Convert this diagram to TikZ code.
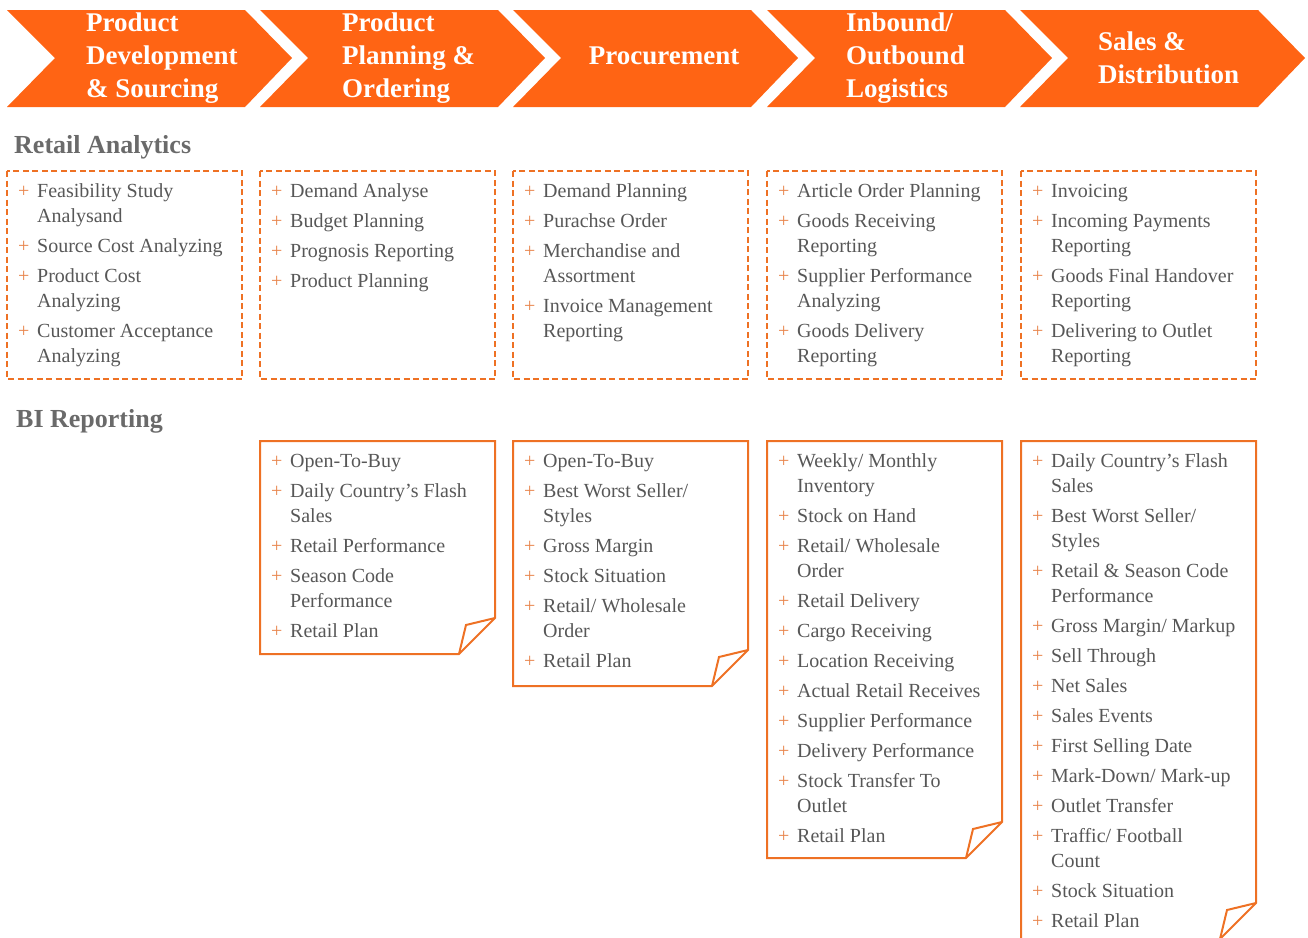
\documentclass[tikz,border=0pt]{standalone}
\usepackage{fontspec}
\setmainfont{Liberation Serif}
\definecolor{chevfill}{HTML}{FF6414}
\definecolor{boxline}{HTML}{EE7124}
\definecolor{plusc}{HTML}{E8854C}
\definecolor{bodytext}{HTML}{575757}
\definecolor{headtext}{HTML}{6A6A6A}
\newcommand\pl{\makebox[19pt][l]{\textcolor{plusc}{+}}}
\newcommand\ind{\hspace*{19pt}}
\newcommand\firstline{\rule{0pt}{18pt}}
\begin{document}
\begin{tikzpicture}[x=1pt,y=-1pt,
  chevron/.style={fill=chevfill},
  chevtext/.style={text=white, font=\bfseries\fontsize{27}{33}\selectfont, inner sep=0pt, align=left},
  heading/.style={text=headtext, font=\bfseries\fontsize{26}{30}\selectfont, inner sep=0pt, anchor=base west},
  dashbox/.style={draw=boxline, line width=1.8pt, dash pattern=on 6pt off 3.5pt},
  notebox/.style={draw=boxline, line width=2pt, line join=miter},
  items/.style={text=bodytext, font=\fontsize{20}{25}\selectfont, inner sep=0pt, align=left, anchor=north west}]
\useasboundingbox (0,0) rectangle (1308,937);
\clip (0,0) rectangle (1308,937);

% process chevrons
\foreach \x in {7,260,513,767,1020}{
  \fill[chevron] (\x,10) -- ++(238,0) -- ++(47,48) -- ++(-47,49) -- ++(-238,0) -- ++(48,-49) -- cycle;
}
\node[chevtext, anchor=north west] (c1) at (86,7) {\rule{0pt}{24pt}Product\\Development\\\& Sourcing};
\node[chevtext, anchor=north west] (c2) at (342,7) {\rule{0pt}{24pt}Product\\Planning \&\\Ordering};
\node[chevtext, anchor=base] (c3) at (664,64) {Procurement};
\node[chevtext, anchor=north west] (c4) at (846,7) {\rule{0pt}{24pt}Inbound/\\Outbound\\Logistics};
\node[chevtext, anchor=north west] (c5) at (1098,26) {\rule{0pt}{24pt}Sales \&\\Distribution};

% section headings
\node[heading] (hra) at (14,153) {Retail Analytics};
\node[heading] (hbi) at (16,427) {BI Reporting};

% retail analytics boxes
\foreach \x in {7,260,513,767,1021}{
  \draw[dashbox] (\x,171) rectangle ++(235,208);
}
\node[items] (ra1) at (18,179) {\firstline\pl Feasibility Study\\ \ind Analysand\\[5pt]
  \pl Source Cost Analyzing\\[5pt]
  \pl Product Cost\\ \ind Analyzing\\[5pt]
  \pl Customer Acceptance\\ \ind Analyzing};
\node[items] (ra2) at (271,179) {\firstline\pl Demand Analyse\\[5pt]
  \pl Budget Planning\\[5pt]
  \pl Prognosis Reporting\\[5pt]
  \pl Product Planning};
\node[items] (ra3) at (524,179) {\firstline\pl Demand Planning\\[5pt]
  \pl Purachse Order\\[5pt]
  \pl Merchandise and\\ \ind Assortment\\[5pt]
  \pl Invoice Management\\ \ind Reporting};
\node[items] (ra4) at (778,179) {\firstline\pl Article Order Planning\\[5pt]
  \pl Goods Receiving\\ \ind Reporting\\[5pt]
  \pl Supplier Performance\\ \ind Analyzing\\[5pt]
  \pl Goods Delivery\\ \ind Reporting};
\node[items] (ra5) at (1032,179) {\firstline\pl Invoicing\\[5pt]
  \pl Incoming Payments\\ \ind Reporting\\[5pt]
  \pl Goods Final Handover\\ \ind Reporting\\[5pt]
  \pl Delivering to Outlet\\ \ind Reporting};

% BI reporting note boxes with folded corner
\foreach \x/\b in {260/654,513/686,767/858,1021/939}{
  \draw[notebox] (\x,441) -- ++(235,0) -- (\x+235,\b-36) -- (\x+199,\b) -- (\x,\b) -- cycle;
  \draw[notebox] (\x+235,\b-36) -- (\x+206,\b-29) -- (\x+199,\b);
}
\node[items] (bi2) at (271,449) {\firstline\pl Open-To-Buy\\[5pt]
  \pl Daily Country's Flash\\ \ind Sales\\[5pt]
  \pl Retail Performance\\[5pt]
  \pl Season Code\\ \ind Performance\\[5pt]
  \pl Retail Plan};
\node[items] (bi3) at (524,449) {\firstline\pl Open-To-Buy\\[5pt]
  \pl Best Worst Seller/\\ \ind Styles\\[5pt]
  \pl Gross Margin\\[5pt]
  \pl Stock Situation\\[5pt]
  \pl Retail/ Wholesale\\ \ind Order\\[5pt]
  \pl Retail Plan};
\node[items] (bi4) at (778,449) {\firstline\pl Weekly/ Monthly\\ \ind Inventory\\[5pt]
  \pl Stock on Hand\\[5pt]
  \pl Retail/ Wholesale\\ \ind Order\\[5pt]
  \pl Retail Delivery\\[5pt]
  \pl Cargo Receiving\\[5pt]
  \pl Location Receiving\\[5pt]
  \pl Actual Retail Receives\\[5pt]
  \pl Supplier Performance\\[5pt]
  \pl Delivery Performance\\[5pt]
  \pl Stock Transfer To\\ \ind Outlet\\[5pt]
  \pl Retail Plan};
\node[items] (bi5) at (1032,449) {\firstline\pl Daily Country's Flash\\ \ind Sales\\[5pt]
  \pl Best Worst Seller/\\ \ind Styles\\[5pt]
  \pl Retail \& Season Code\\ \ind Performance\\[5pt]
  \pl Gross Margin/ Markup\\[5pt]
  \pl Sell Through\\[5pt]
  \pl Net Sales\\[5pt]
  \pl Sales Events\\[5pt]
  \pl First Selling Date\\[5pt]
  \pl Mark-Down/ Mark-up\\[5pt]
  \pl Outlet Transfer\\[5pt]
  \pl Traffic/ Football\\ \ind Count\\[5pt]
  \pl Stock Situation\\[5pt]
  \pl Retail Plan};
\end{tikzpicture}
\end{document}
